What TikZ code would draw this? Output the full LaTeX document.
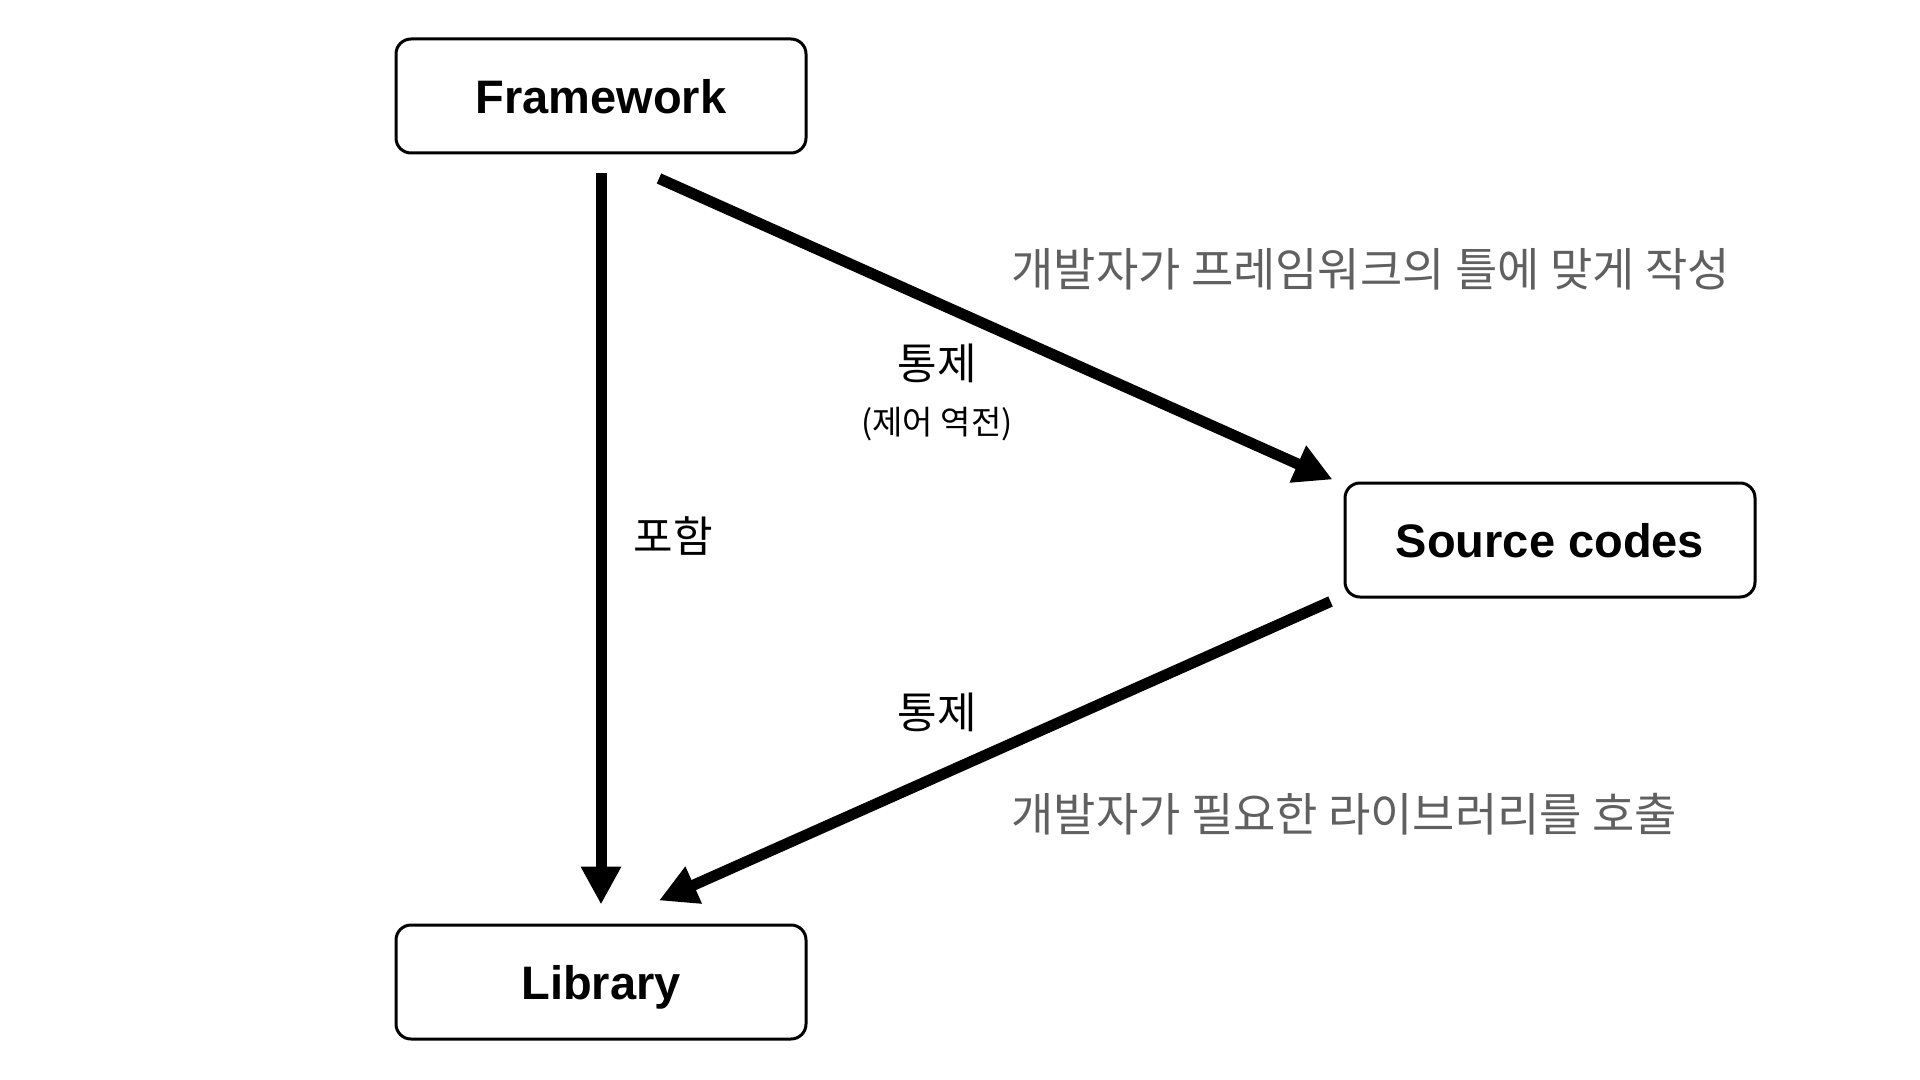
\documentclass[tikz,border=0pt]{standalone}
\usepackage{fontspec}
\setmainfont{Liberation Sans}
\newfontfamily\kr{Noto Sans CJK KR}
\usetikzlibrary{arrows.meta}
\definecolor{txtgray}{RGB}{96,96,96}
\tikzset{
  box/.style={draw, line width=1.5pt, rounded corners=7.5pt, minimum width=205pt, minimum height=57pt, font=\fontsize{23.5pt}{28pt}\selectfont\bfseries, inner sep=0pt, text depth=0pt},
  conn/.style={line width=5.5pt, -{Triangle[length=19pt,width=19pt]}},
  lbl/.style={font=\kr\fontsize{21.5pt}{26pt}\selectfont, inner sep=0pt},
  sublbl/.style={font=\kr\fontsize{16.5pt}{20pt}\selectfont, inner sep=0pt},
  note/.style={font=\kr\fontsize{23pt}{27pt}\selectfont, text=txtgray, inner sep=0pt, anchor=west},
}
\begin{document}
\begin{tikzpicture}[x=0.5pt,y=-0.5pt]
\useasboundingbox (0,0) rectangle (1920,1080);
\node[box] (fw) at (601,96) {Framework};
\node[box] (src) at (1550,540) {Source codes};
\node[box] (lib) at (601,982) {Library};

\draw[conn, shorten <=9.5pt, shorten >=9.5pt] (fw) -- (lib);
\draw[conn] ([shift={(58,24)}]fw.south) -- ([shift={(-11,-2)}]src.north west);
\draw[conn] ([shift={(-13,3)}]src.south west) -- ([shift={(58,-23)}]lib.north);

\node[lbl] (t1) at (937,363) {통제};
\node[sublbl] (t1s) at (937,424) {(제어 역전)};
\node[lbl] (t2) at (673,536) {포함};
\node[lbl] (t3) at (937,712) {통제};
\node[note] (n1) at (1011,269) {개발자가 프레임워크의 틀에 맞게 작성};
\node[note] (n2) at (1011,814) {개발자가 필요한 라이브러리를 호출};
\end{tikzpicture}
\end{document}
